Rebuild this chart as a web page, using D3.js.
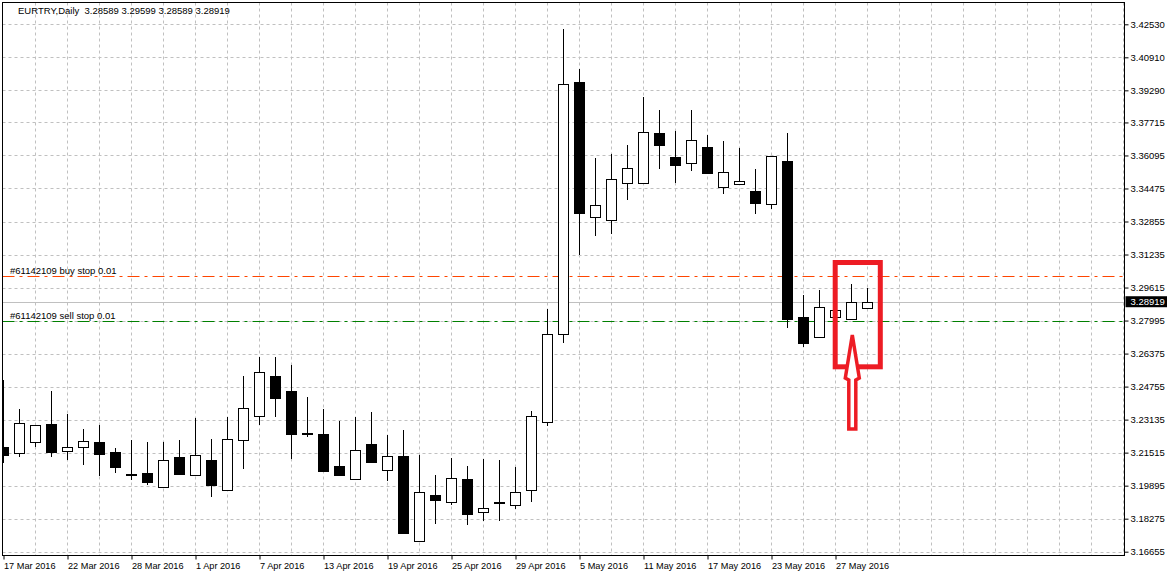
<!DOCTYPE html>
<html>
<head>
<meta charset="utf-8">
<script src="https://cdn.jsdelivr.net/npm/d3@7"></script>
<style>
body { margin: 0; background: #fff; }
svg { display: block; font-family: "Liberation Sans", Tahoma, Arial, sans-serif; }
</style>
</head>
<body>
<svg id="chart" width="1167" height="575"></svg>
<script>
const symbol = "EURTRY,Daily";

// one entry per daily bar
const dates = ["17 Mar 2016","18 Mar 2016","20 Mar 2016","21 Mar 2016","22 Mar 2016","23 Mar 2016","24 Mar 2016","25 Mar 2016",
  "28 Mar 2016","29 Mar 2016","30 Mar 2016","31 Mar 2016","1 Apr 2016","4 Apr 2016","5 Apr 2016","6 Apr 2016",
  "7 Apr 2016","8 Apr 2016","11 Apr 2016","12 Apr 2016","13 Apr 2016","14 Apr 2016","15 Apr 2016","18 Apr 2016",
  "19 Apr 2016","20 Apr 2016","21 Apr 2016","22 Apr 2016","25 Apr 2016","26 Apr 2016","27 Apr 2016","28 Apr 2016",
  "29 Apr 2016","2 May 2016","3 May 2016","4 May 2016","5 May 2016","6 May 2016","9 May 2016","10 May 2016",
  "11 May 2016","12 May 2016","13 May 2016","16 May 2016","17 May 2016","18 May 2016","19 May 2016","20 May 2016",
  "23 May 2016","24 May 2016","25 May 2016","26 May 2016","27 May 2016","30 May 2016","31 May 2016"];

const open = [3.21777,3.21482,3.22022,3.22920,3.21581,3.21777,3.22037,3.21546,
  3.20491,3.20501,3.19844,3.21286,3.20403,3.21139,3.19667,3.22120,
  3.23298,3.25275,3.24539,3.22493,3.22415,3.20859,3.20207,3.21924,
  3.20648,3.21335,3.17165,3.19422,3.19079,3.20207,3.18588,3.19030,
  3.18931,3.19667,3.23003,3.27335,3.39699,3.33061,3.32913,3.34729,
  3.34729,3.37182,3.36019,3.35710,3.36510,3.34532,3.34680,3.34336,
  3.33698,3.35808,3.28169,3.27173,3.28155,3.28057,3.28589];

const high = [3.25079,3.23641,3.22871,3.24539,3.23411,3.22675,3.22871,3.21728,
  3.22135,3.22037,3.22037,3.22135,3.23200,3.22184,3.23249,3.25275,
  3.26222,3.26222,3.25814,3.24245,3.23656,3.23067,3.23263,3.23509,
  3.22380,3.22626,3.21399,3.20418,3.21252,3.20859,3.21203,3.21154,
  3.20810,3.23558,3.28562,3.42299,3.40336,3.35970,3.36166,3.36608,
  3.38963,3.38325,3.37295,3.38325,3.37098,3.36804,3.36461,3.35430,
  3.36053,3.37196,3.29249,3.29494,3.28498,3.29788,3.29599];

const low = [3.21070,3.21365,3.21841,3.21365,3.21203,3.20972,3.20433,3.20580,
  3.20236,3.19991,3.19814,3.20482,3.20403,3.19402,3.19667,3.20776,
  3.22935,3.23327,3.21267,3.22346,3.20629,3.20433,3.20207,3.21070,
  3.20187,3.17587,3.17165,3.18078,3.18980,3.18029,3.18225,3.18225,
  3.18814,3.19157,3.22856,3.26958,3.31260,3.32207,3.32276,3.33973,
  3.34729,3.35494,3.34807,3.35366,3.35249,3.34238,3.34680,3.33286,
  3.33532,3.27694,3.26747,3.27173,3.28155,3.28057,3.28589];

const close = [3.21414,3.22954,3.22856,3.21561,3.21777,3.22071,3.21463,3.20825,
  3.20472,3.20089,3.21139,3.20482,3.21384,3.19942,3.22169,3.23690,
  3.25456,3.24210,3.22454,3.22415,3.20629,3.20433,3.21630,3.21070,
  3.21365,3.17587,3.19569,3.19206,3.20256,3.18519,3.18814,3.19108,
  3.19569,3.23298,3.27335,3.39586,3.33257,3.33649,3.34925,3.35465,
  3.37231,3.36622,3.35641,3.36838,3.35249,3.35268,3.34827,3.33777,
  3.36053,3.28086,3.26909,3.28645,3.28498,3.28891,3.28919];

const priceTicks = [3.42530,3.40910,3.39290,3.37715,3.36095,3.34475,3.32855,3.31235,3.29615,
  3.27995,3.26375,3.24755,3.23135,3.21515,3.19895,3.18275,3.16655];

// bars that carry a date label on the time axis
const dateTickIdx = [0,4,8,12,16,20,24,28,32,36,40,44,48,52];

// pending orders
const orderLabels = ["#61142109 buy stop 0.01", "#61142109 sell stop 0.01"];
const orderPrices = [3.30181, 3.27958];
const orderColors = ["#ff4500", "#008000"];

const width = 1167, height = 575;
const plot = {left: 2.5, top: 2.5, right: 1124.5, bottom: 555.5};
const fontSize = "9.5px";

const svg = d3.select("#chart");

// x by bar index, 16px per bar, room for 70 bars
const x = d3.scaleLinear().domain([0, 70]).range([3.5, 1123.5]);
const y = d3.scaleLinear().domain([3.16655, 3.42530]).range([551.7, 24.3]);

svg.append("defs").append("clipPath").attr("id", "clip")
  .append("rect")
  .attr("x", plot.left + 0.5).attr("y", plot.top + 0.5)
  .attr("width", plot.right - plot.left - 1).attr("height", plot.bottom - plot.top - 1);

const g = svg.append("g").attr("clip-path", "url(#clip)");

// grid
g.append("g").selectAll("line")
  .data(priceTicks)
  .enter().append("line")
  .attr("x1", plot.left).attr("x2", plot.right)
  .attr("y1", d => Math.round(y(d)) + 0.5).attr("y2", d => Math.round(y(d)) + 0.5)
  .attr("stroke", "#c0c0c0").attr("stroke-dasharray", "3,3");

g.append("g").selectAll("line")
  .data(d3.range(2, 71, 2))
  .enter().append("line")
  .attr("x1", d => x(d)).attr("x2", d => x(d))
  .attr("y1", plot.top).attr("y2", plot.bottom)
  .attr("stroke", "#c0c0c0").attr("stroke-dasharray", "3,3");

// current price line
const last = dates.length - 1;
g.append("line")
  .attr("x1", plot.left).attr("x2", plot.right)
  .attr("y1", Math.round(y(close[last])) + 0.5).attr("y2", Math.round(y(close[last])) + 0.5)
  .attr("stroke", "#c0c0c0");

// order lines
orderPrices.forEach((p, k) => {
  const yy = Math.round(y(p)) + 0.5;
  g.append("line")
    .attr("x1", plot.left).attr("x2", plot.right)
    .attr("y1", yy).attr("y2", yy)
    .attr("stroke", orderColors[k])
    .attr("stroke-dasharray", "12,5,3,5");
  g.append("text")
    .attr("x", 10).attr("y", yy - 2.5)
    .attr("font-size", fontSize).attr("fill", "#000")
    .text(orderLabels[k]);
});

// candles
const bars = dates.map((d, i) => ({i: i, d: d, o: open[i], h: high[i], l: low[i], c: close[i]}));

const candle = g.append("g").selectAll("g")
  .data(bars)
  .enter().append("g");

candle.append("line")
  .attr("x1", d => x(d.i)).attr("x2", d => x(d.i))
  .attr("y1", d => Math.round(y(d.h))).attr("y2", d => Math.round(y(d.l)) + 1)
  .attr("stroke", "#000");

candle.append("rect")
  .attr("x", d => x(d.i) - 5)
  .attr("y", d => Math.round(y(Math.max(d.o, d.c))) + 0.5)
  .attr("width", 10)
  .attr("height", d => Math.max(1, Math.round(y(Math.min(d.o, d.c))) - Math.round(y(Math.max(d.o, d.c)))))
  .attr("fill", d => d.c >= d.o ? "#fff" : "#000")
  .attr("stroke", "#000");

// frame
svg.append("rect")
  .attr("x", plot.left).attr("y", plot.top)
  .attr("width", plot.right - plot.left).attr("height", plot.bottom - plot.top)
  .attr("fill", "none").attr("stroke", "#000");

// price axis
const yAxis = svg.append("g")
  .attr("transform", `translate(${plot.right},0)`)
  .call(d3.axisRight(y).tickValues(priceTicks).tickSize(4).tickPadding(2).tickFormat(d3.format(".5f")));
yAxis.select(".domain").remove();
yAxis.selectAll("text").attr("font-size", fontSize).attr("font-family", null);

// current price tag
const yc = y(close[last]);
svg.append("rect")
  .attr("x", plot.right + 1).attr("y", yc - 5.5)
  .attr("width", width - plot.right - 1).attr("height", 11)
  .attr("fill", "#000");
svg.append("text")
  .attr("x", plot.right + 6).attr("y", yc + 3.5)
  .attr("font-size", fontSize).attr("fill", "#fff")
  .text(d3.format(".5f")(close[last]));

// time axis
const xAxis = svg.append("g")
  .attr("transform", `translate(0,${plot.bottom})`)
  .call(d3.axisBottom(x).tickValues(dateTickIdx).tickSize(4).tickFormat(i => dates[i]));
xAxis.select(".domain").remove();
xAxis.selectAll("text")
  .attr("text-anchor", "start")
  .attr("x", 0)
  .attr("font-size", "9.2px").attr("font-family", null);

// header
const f5 = d3.format(".5f");
svg.append("text")
  .attr("x", 18).attr("y", 13.5)
  .attr("font-size", fontSize).attr("fill", "#000")
  .attr("xml:space", "preserve")
  .style("white-space", "pre")
  .text(`${symbol}  ${f5(open[last])} ${f5(high[last])} ${f5(low[last])} ${f5(close[last])}`);

// red annotation box and arrow around the last bars
const red = "#ed1c24";
const boxLeft = x(52) - 0.3, boxRight = x(54.8);
svg.append("rect")
  .attr("x", boxLeft).attr("y", y(3.30843))
  .attr("width", boxRight - boxLeft).attr("height", y(3.25726) - y(3.30843))
  .attr("fill", "none").attr("stroke", red).attr("stroke-width", 5);

const ax = x(53.05), tipY = y(3.27288), endY = y(3.22675);
const arrow = d3.path();
arrow.moveTo(ax, tipY);
arrow.lineTo(ax + 7, tipY + 43);
arrow.lineTo(ax + 3.5, tipY + 45);
arrow.lineTo(ax + 3.5, endY);
arrow.lineTo(ax - 3.5, endY);
arrow.lineTo(ax - 3.5, tipY + 45);
arrow.lineTo(ax - 7, tipY + 43);
arrow.closePath();
svg.append("path")
  .attr("d", arrow.toString())
  .attr("fill", "#fff").attr("stroke", red).attr("stroke-width", 3.5)
  .attr("stroke-linejoin", "miter");
</script>
</body>
</html>
